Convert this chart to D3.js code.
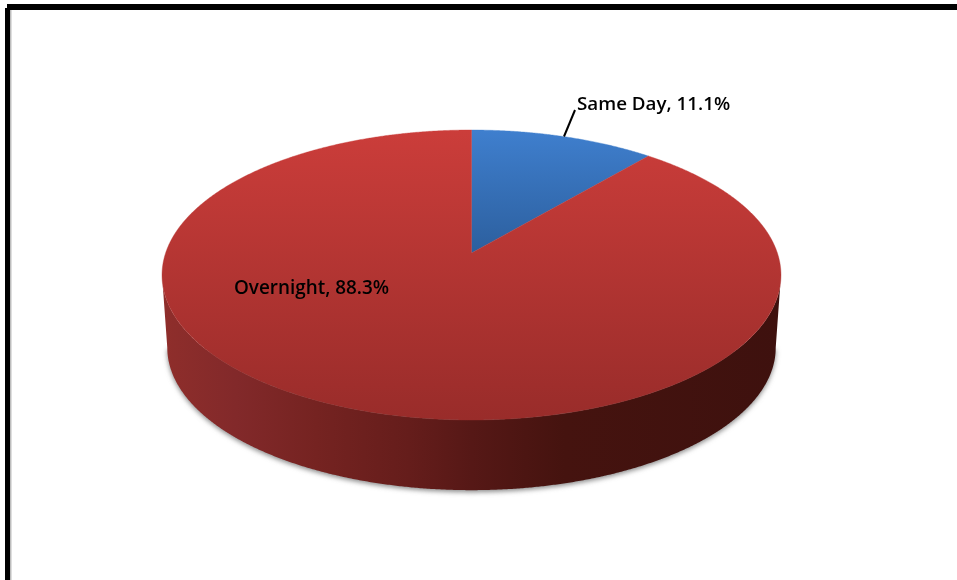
<!DOCTYPE html>
<html><head><meta charset="utf-8">
<script src="https://cdn.jsdelivr.net/npm/d3@7"></script>
<style>html,body{margin:0;padding:0;background:#fff;overflow:hidden}svg{display:block}
text{font-family:"Open Sans","Noto Sans",sans-serif;fill:#000;font-weight:600}</style>
</head><body>
<svg id="c" width="957" height="580"></svg>
<script>
const categories = ["Same Day", "Overnight"];
const values = [11.1, 88.3];
const labels = ["Same Day, 11.1%", "Overnight, 88.3%"];
const sliceColors = [["#3f7fce", "#2c5f9e"], ["#cb3d3a", "#992c2a"]];

const svg = d3.select("#c");
const cx = 471.5, apexY = 253, depth = 73, k = 0.1517, a = 141.66, b = 305.9, bottomScale = 0.983;

// tilted-circle projection: angle (clockwise from top) to screen
function proj(t, level) {
  const u = Math.sin(t), v = Math.cos(t), w = 1 + k * v;
  const s = level ? bottomScale : 1;
  return [cx + s * b * u / w, apexY + (level ? depth : 0) - s * a * v / w];
}
const pie = d3.pie().value(d => d).sort(null);
const arcs = pie(values);
const step = 0.005;
const rim = (t0, t1, level) => {
  const n = Math.ceil(Math.abs(t1 - t0) / step);
  return d3.range(n + 1).map(i => proj(t0 + (t1 - t0) * i / n, level));
};
const line = d3.line();

const defs = svg.append("defs");
defs.append("filter").attr("id", "shadow").attr("x", "-10%").attr("y", "-10%").attr("width", "120%").attr("height", "120%")
  .append("feGaussianBlur").attr("stdDeviation", 2.6);
defs.append("filter").attr("id", "soft").attr("x", "-5%").attr("y", "-20%").attr("width", "110%").attr("height", "140%")
  .append("feGaussianBlur").attr("stdDeviation", 0.4);
sliceColors.forEach((c, i) => {
  const g = defs.append("linearGradient").attr("id", "top" + i).attr("gradientUnits", "userSpaceOnUse")
    .attr("x1", 0).attr("x2", 0).attr("y1", 130).attr("y2", i ? 420 : 253);
  g.append("stop").attr("offset", 0).attr("stop-color", c[0]);
  g.append("stop").attr("offset", 1).attr("stop-color", c[1]);
});
const sideG = defs.append("linearGradient").attr("id", "side").attr("gradientUnits", "userSpaceOnUse")
  .attr("x1", 162).attr("x2", 781).attr("y1", 0).attr("y2", 0);
[[0, "#8f2e2b"], [0.12, "#82292a"], [0.25, "#752321"], [0.4, "#651d1b"], [0.5, "#561816"], [0.65, "#45130f"], [1, "#3e110e"]]
  .forEach(d => sideG.append("stop").attr("offset", d[0]).attr("stop-color", d[1]));

// frame
svg.append("rect").attr("x", 10).attr("y", 10).attr("width", 1.5).attr("height", 570).attr("fill", "#bdbdbd");
svg.append("rect").attr("x", 7).attr("y", 4).attr("width", 950).attr("height", 6).attr("fill", "#000");
svg.append("rect").attr("x", 5).attr("y", 8).attr("width", 5).attr("height", 572).attr("fill", "#000");

// shadow
const widest = Math.PI - Math.acos(k);
const shadowPts = rim(widest, 2 * Math.PI - widest, 1);
svg.append("path").attr("d", line(shadowPts) + "Z").attr("fill", "#8a8a8a")
  .attr("transform", "translate(0,2)").attr("filter", "url(#shadow)");

// side wall
const sidePts = rim(widest, 2 * Math.PI - widest, 0).concat(rim(2 * Math.PI - widest, widest, 1));
svg.append("path").attr("d", line(sidePts) + "Z").attr("fill", "url(#side)");

// top face, one wedge per value
svg.append("g").selectAll("path").data(arcs).join("path")
  .attr("d", d => line([[cx, apexY]].concat(rim(d.startAngle, d.endAngle, 0))) + "Z")
  .attr("fill", (d, i) => `url(#top${i})`)
  .attr("stroke", (d, i) => `url(#top${i})`).attr("stroke-width", 0.4);

// leader
svg.append("line").attr("x1", 564).attr("y1", 136.5).attr("x2", 575).attr("y2", 110)
  .attr("stroke", "#000").attr("stroke-width", 2);

// labels
const labelPos = [[577, 110], [234, 294]];
const labelSize = [18.8, 18.9];
svg.append("g").attr("filter", "url(#soft)").selectAll("text").data(labels).join("text")
  .attr("x", (d, i) => labelPos[i][0]).attr("y", (d, i) => labelPos[i][1])
  .attr("font-size", (d, i) => labelSize[i]).text(d => d);
</script>
</body></html>
